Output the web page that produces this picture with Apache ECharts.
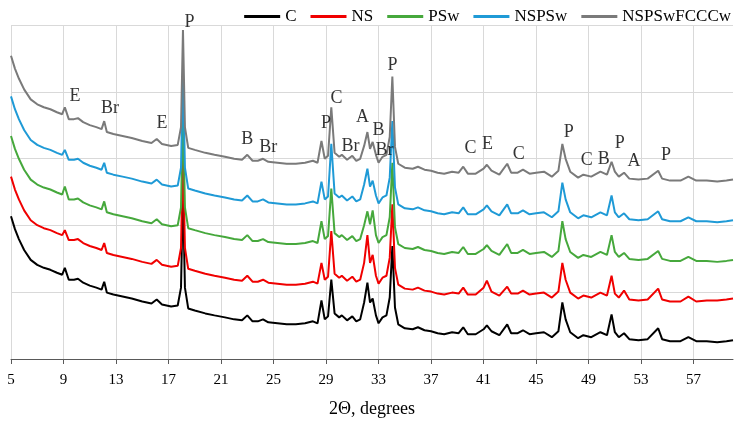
<!DOCTYPE html>
<html>
<head>
<meta charset="utf-8">
<script src="https://cdn.jsdelivr.net/npm/echarts@6/dist/echarts.min.js"></script>
<style>
html,body{margin:0;padding:0;background:#fff;}
#chart{width:742px;height:423px;}
</style>
</head>
<body>
<div id="chart"></div>
<script>
// 2θ positions (degrees)
const twoTheta = [5.0,5.3,5.6,6.0,6.5,7.0,7.5,8.0,8.5,8.9,9.1,9.4,9.8,10.1,10.5,11.0,11.5,11.9,12.1,12.3,12.8,13.5,14.2,15.0,15.7,16.1,16.5,17.2,17.7,17.95,18.1,18.25,18.5,19.0,19.8,20.5,21.3,22.0,22.6,23.0,23.4,23.8,24.2,24.6,25.3,26.0,26.7,27.4,28.0,28.35,28.65,28.9,29.15,29.4,29.65,30.0,30.2,30.6,31.0,31.3,31.6,31.9,32.15,32.35,32.55,32.8,33.0,33.3,33.6,33.85,34.05,34.25,34.5,35.0,35.6,36.0,36.5,37.0,37.5,38.0,38.6,39.1,39.45,39.8,40.4,41.0,41.25,41.6,42.2,42.8,43.1,43.6,44.0,44.5,45.0,45.6,46.2,46.7,47.0,47.25,47.6,48.2,48.6,49.2,49.9,50.4,50.75,51.0,51.3,51.7,52.1,52.8,53.5,54.3,54.6,55.2,56.0,56.6,57.2,58.0,58.8,59.5,60.0];

// Intensities (arbitrary units, stacked patterns)
const C = [144,131,121,110,100,95,92,90,87,85,92,80,80,81,77,74,72,70,78,67,65,63,61,58,56,60,55,53,54,72,169,72,51,49,46,44,42,40,39,44,38,38,40,37,36,35,35,36,38,36,59,40,43,80,46,42,44,39,43,38,40,57,77,57,61,44,36,42,44,62,114,52,35,31,30,32,29,28,26,25,27,26,32,25,25,30,34,28,24,35,26,26,29,25,26,27,22,28,57,40,27,21,24,22,27,24,45,27,22,26,20,19,20,31,20,18,18,22,18,18,17,18,19];
const NS = [184,171,161,150,140,135,132,130,127,125,130,120,120,121,117,114,112,110,117,107,105,103,101,98,96,100,95,93,94,112,210,112,91,89,86,84,82,80,79,84,78,78,80,77,76,75,75,76,78,76,97,80,83,129,86,82,84,79,83,78,80,97,125,97,105,84,76,82,84,102,156,92,75,71,70,72,69,68,66,65,67,66,72,65,65,72,79,68,64,73,66,66,69,65,66,67,62,68,97,80,67,61,64,62,67,64,84,66,62,69,60,59,60,71,60,58,58,63,58,59,59,60,61];
const PSw = [225,212,202,191,181,176,173,171,168,166,174,161,161,162,158,155,153,151,159,148,146,144,142,139,137,141,136,134,135,153,250,153,132,130,127,125,123,121,120,125,119,119,121,118,117,116,116,117,119,117,139,121,124,172,127,123,125,120,124,119,121,135,149,136,150,125,117,123,125,143,198,133,116,112,111,113,110,109,107,106,108,107,113,106,106,111,115,109,105,116,107,107,110,106,107,108,103,109,139,121,108,102,105,103,108,105,125,108,103,107,101,100,101,109,101,99,99,103,99,99,98,99,100];
const NSPSw = [265,252,242,231,221,216,213,211,208,206,211,201,201,202,198,195,193,191,198,188,186,184,182,179,177,181,176,174,175,193,291,193,172,170,167,165,163,161,160,165,159,159,161,158,157,156,156,157,159,157,179,161,164,217,167,163,165,160,164,159,161,176,192,174,180,165,157,163,165,183,240,173,156,152,151,153,150,149,147,146,148,147,153,146,146,151,155,149,145,156,147,147,150,146,147,148,143,149,178,161,148,142,145,143,148,145,165,148,143,147,141,140,141,149,141,139,139,143,139,139,138,139,140];
const NSPSwFCCCw = [306,293,283,272,262,257,254,252,249,247,254,242,242,243,239,236,234,232,240,229,227,225,223,220,218,222,217,215,216,234,332,234,213,211,208,206,204,202,201,206,200,200,202,199,198,197,197,198,200,198,220,202,205,254,208,204,206,201,205,200,202,215,229,212,219,206,198,204,206,224,285,214,197,193,192,194,191,190,188,187,189,188,194,187,187,192,196,190,186,197,188,188,191,187,188,189,184,190,217,202,189,183,186,184,189,186,199,189,184,188,182,181,182,190,182,180,180,184,180,180,179,180,181];

const seriesNames = ['C','NS','PSw','NSPSw','NSPSwFCCCw'];
const seriesValues = [C, NS, PSw, NSPSw, NSPSwFCCCw];
const seriesColors = ['#000000','#f00000','#46a83c','#1f9ad6','#7a7a7a'];

// Phase annotations
const annText = ['E','Br','E','P','B','Br','P','C','Br','A','B','Br','P','C','E','C','P','C','B','P','A','P'];
const annX = [9.88,12.55,16.5,18.6,23.0,24.6,29.0,29.8,30.86,31.77,33.0,33.45,34.06,40.0,41.3,43.67,47.49,48.86,50.16,51.38,52.45,54.9];
const annY = [265,253,238,340,222,214,238,263,215,244,231,211,296,213,217,207,229,201,202,218,200,206];

const xTicks = [5,9,13,17,21,25,29,33,37,41,45,49,53,57];

const serif = '"Liberation Serif","Times New Roman",serif';

const chart = echarts.init(document.getElementById('chart'), null, {renderer:'canvas'});

const lineSeries = seriesNames.map((n, k) => ({
  name: n,
  type: 'line',
  data: twoTheta.map((x, i) => [x, seriesValues[k][i]]),
  showSymbol: false,
  symbol: 'none',
  smooth: false,
  color: seriesColors[k],
  lineStyle: {width: 2, color: seriesColors[k]},
  animation: false
}));

const annSeries = {
  type: 'scatter',
  silent: true,
  clip: false,
  symbolSize: 0,
  data: annText.map((t, i) => ({name: t, value: [annX[i], annY[i]]})),
  label: {
    show: true,
    position: 'inside',
    formatter: p => p.name,
    fontFamily: serif,
    fontSize: 18,
    color: '#000'
  },
  animation: false,
  z: 10
};

chart.setOption({
  animation: false,
  backgroundColor: '#fff',
  legend: {
    data: seriesNames,
    right: 6,
    top: 3,
    itemWidth: 36,
    itemHeight: 3,
    itemGap: 14,
    icon: 'rect',
    textStyle: {fontFamily: serif, fontSize: 17, color: '#000'}
  },
  grid: {left: 11, right: 9, top: 25, bottom: 61, containLabel: false},
  xAxis: {
    type: 'value',
    min: 5,
    max: 60,
    name: '2Θ, degrees',
    nameLocation: 'middle',
    nameGap: 41,
    nameTextStyle: {fontFamily: serif, fontSize: 18, color: '#000'},
    axisLine: {show: true, lineStyle: {color: '#595959', width: 1}},
    axisTick: {show: true, length: 5, customValues: xTicks, lineStyle: {color: '#595959'}},
    axisLabel: {customValues: xTicks, fontFamily: serif, fontSize: 15, color: '#000', margin: 14},
    splitLine: {show: true, lineStyle: {color: '#d9d9d9', width: 1}}
  },
  yAxis: {
    type: 'value',
    min: 0,
    max: 337,
    interval: 67.4,
    axisLine: {show: false},
    axisTick: {show: false},
    axisLabel: {show: false},
    splitLine: {show: true, lineStyle: {color: '#d9d9d9', width: 1}}
  },
  series: [...lineSeries, annSeries]
});
</script>
</body>
</html>
